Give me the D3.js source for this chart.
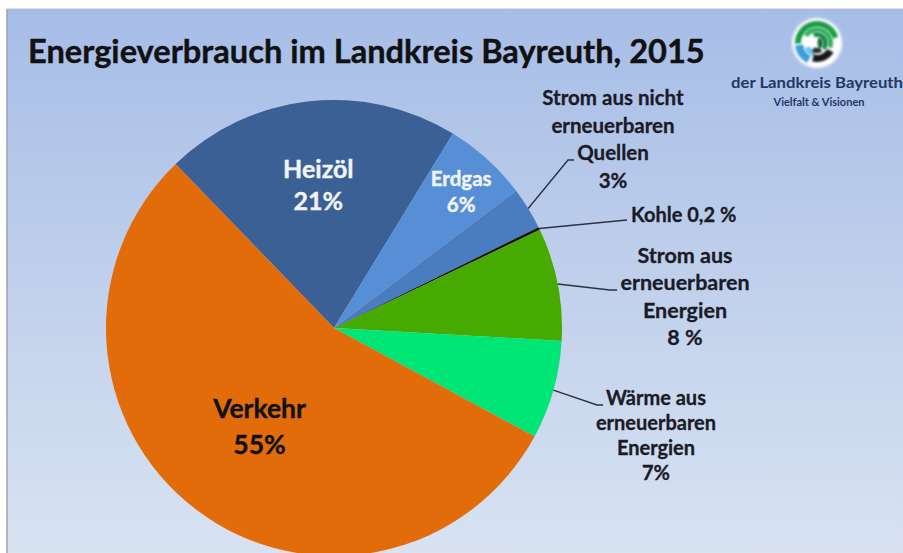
<!DOCTYPE html>
<html>
<head>
<meta charset="utf-8">
<script src="https://cdn.jsdelivr.net/npm/d3@7"></script>
<style>
  html, body { margin: 0; padding: 0; background: #fff; }
  svg { display: block; }
  text { font-family: Lato, "Open Sans", sans-serif; font-weight: 700; }
</style>
</head>
<body>
<svg id="chart" width="903" height="553"></svg>
<script>
// ---------- data ----------
const categories = ["Heizöl", "Erdgas", "Strom aus nicht erneuerbaren Quellen", "Kohle",
                    "Strom aus erneuerbaren Energien", "Wärme aus erneuerbaren Energien", "Verkehr"];
const values = [21, 6, 3, 0.2, 8, 7, 55];
const valueLabels = ["21%", "6%", "3%", "0,2 %", "8 %", "7%", "55%"];
const labelLines = [
  ["Heizöl", "21%"],
  ["Erdgas", "6%"],
  ["Strom aus nicht", "erneuerbaren", "Quellen", "3%"],
  ["Kohle 0,2 %"],
  ["Strom aus", "erneuerbaren", "Energien", "8 %"],
  ["Wärme aus", "erneuerbaren", "Energien", "7%"],
  ["Verkehr", "55%"]
];
const titleText = "Energieverbrauch im Landkreis Bayreuth, 2015";
const logoLines = ["der Landkreis Bayreuth", "Vielfalt & Visionen"];

// ---------- styles / layout ----------
const colors = ["#3A6095", "#568FD6", "#4A7DBF", "#111111", "#46AA00", "#00E676", "#E36C0A"];
const W = 903, H = 553;
const cx = 334, cy = 328, R = 228;
const startDeg = -44;

const labelLayout = [
  { type: "in", rf: 0.63, size: 25, lh: 32, fill: "#F2F4F8" },
  { type: "in", rf: 0.83, size: 20.5, lh: 26, fill: "#F2F4F8", dy: 4 },
  { type: "out", x: 613, y: 105, anchor: "middle", size: 20.5, lh: 27.5, elbow: [[568, 160], [574, 160]] },
  { type: "out", x: 631, y: 222, anchor: "start", size: 20, lh: 27, elbow: [[627, 220]] },
  { type: "out", x: 685, y: 263, anchor: "middle", size: 21.5, lh: 27.3, elbow: [[610, 290], [617, 290]] },
  { type: "out", x: 656, y: 405, anchor: "middle", size: 20, lh: 25, elbow: [[597, 405], [603, 405]] },
  { type: "in", rf: 0.54, size: 26.5, lh: 36, fill: "#111" }
];

const svg = d3.select("#chart");
const defs = svg.append("defs");

const bg = defs.append("linearGradient").attr("id", "bg").attr("x1", 0).attr("y1", 0).attr("x2", 0).attr("y2", 1);
bg.append("stop").attr("offset", "0%").attr("stop-color", "#A6BDE7");
bg.append("stop").attr("offset", "55%").attr("stop-color", "#C3D2EC");
bg.append("stop").attr("offset", "100%").attr("stop-color", "#D8E2F1");

svg.append("rect").attr("width", W).attr("height", H).attr("fill", "#fff");
svg.append("rect").attr("x", 7).attr("y", 9).attr("width", W - 7).attr("height", H - 9).attr("fill", "url(#bg)");
svg.append("line").attr("x1", 7).attr("x2", 7).attr("y1", 9).attr("y2", H).attr("stroke", "#9aa3b0").attr("stroke-width", 1.5);
svg.append("line").attr("x1", 7).attr("x2", W).attr("y1", 9).attr("y2", 9).attr("stroke", "#b8c2d0").attr("stroke-width", 1);

// title
const title = svg.append("text").attr("x", 28).attr("y", 63).attr("font-size", 30).attr("fill", "#111")
  .attr("stroke", "#111").attr("stroke-width", 0.4).text(titleText);
const tl = title.node().getComputedTextLength();
title.attr("font-size", 30 * 677 / tl);

// logo
const blur = defs.append("filter").attr("id", "soft").attr("x", "-30%").attr("y", "-30%").attr("width", "160%").attr("height", "160%");
blur.append("feGaussianBlur").attr("stdDeviation", 1.5);
const blur2 = defs.append("filter").attr("id", "soft2").attr("x", "-30%").attr("y", "-30%").attr("width", "160%").attr("height", "160%");
blur2.append("feGaussianBlur").attr("stdDeviation", 0.9);
const logo = svg.append("g").attr("transform", "translate(817,43)");
logo.append("circle").attr("r", 25).attr("fill", "#fff").attr("filter", "url(#soft)");
const swirl = [
  { i: 16, o: 22, s: -1.6, e: 1.3, f: "#1E9C4A" },
  { i: 11, o: 16, s: -1.0, e: 1.9, f: "#34B160" },
  { i: 6, o: 11, s: -0.4, e: 2.3, f: "#1A8A45" },
  { i: 1, o: 6, s: 0.3, e: 2.8, f: "#0F6E36" },
  { i: 14, o: 22, s: 3.6, e: 4.6, f: "#3A9FD8" },
  { i: 8, o: 14, s: 3.3, e: 4.3, f: "#6CC8EA" },
  { i: 12, o: 19, s: 2.1, e: 3.4, f: "#151515" },
  { i: 5, o: 10, s: 2.6, e: 3.7, f: "#2a2a2a" }
];
const sArc = d3.arc();
logo.selectAll("path").data(swirl).join("path")
  .attr("d", d => sArc({ innerRadius: d.i, outerRadius: d.o, startAngle: d.s, endAngle: d.e }))
  .attr("fill", d => d.f).attr("filter", "url(#soft2)");
svg.append("text").attr("x", 731).attr("y", 88).attr("font-size", 15.5).attr("fill", "#223863")
  .attr("textLength", 172).attr("lengthAdjust", "spacingAndGlyphs").text(logoLines[0]);
svg.append("text").attr("x", 819).attr("y", 106).attr("text-anchor", "middle").attr("font-size", 11)
  .attr("fill", "#223863").text(logoLines[1]);

// pie
const a0 = startDeg * Math.PI / 180;
const pie = d3.pie().sort(null).value(d => d).startAngle(a0).endAngle(a0 + 2 * Math.PI);
const arcs = pie(values);
const arc = d3.arc().innerRadius(0).outerRadius(R);
const edge = d3.arc().innerRadius(R).outerRadius(R);

const g = svg.append("g").attr("transform", `translate(${cx},${cy})`);
g.selectAll("path.slice").data(arcs).join("path").attr("class", "slice")
  .attr("d", arc).attr("fill", (d, i) => colors[i]);

arcs.forEach((d, i) => {
  const L = labelLayout[i];
  const lines = labelLines[i];
  if (L.type === "in") {
    const lab = d3.arc().innerRadius(R * L.rf).outerRadius(R * L.rf);
    const [px, py] = lab.centroid(d);
    const t = svg.append("text").attr("text-anchor", "middle").attr("font-size", L.size).attr("fill", L.fill)
      .attr("stroke", L.fill).attr("stroke-width", 0.4);
    const n = lines.length;
    lines.forEach((ln, k) => {
      t.append("tspan").attr("x", cx + px)
        .attr("y", cy + py + (L.dy || 0) + (k - (n - 1) / 2) * L.lh + L.size * 0.36).text(ln);
    });
  } else {
    const [ex, ey] = edge.centroid(d);
    const pts = [[cx + ex, cy + ey]].concat(L.elbow);
    svg.append("path").attr("d", d3.line()(pts)).attr("fill", "none")
      .attr("stroke", "#2A3245").attr("stroke-width", 1.4);
    const t = svg.append("text").attr("text-anchor", L.anchor).attr("font-size", L.size).attr("fill", "#1A1B26")
      .attr("stroke", "#1A1B26").attr("stroke-width", 0.3);
    lines.forEach((ln, k) => {
      t.append("tspan").attr("x", L.x).attr("y", L.y + k * L.lh).text(ln);
    });
  }
});
</script>
</body>
</html>
